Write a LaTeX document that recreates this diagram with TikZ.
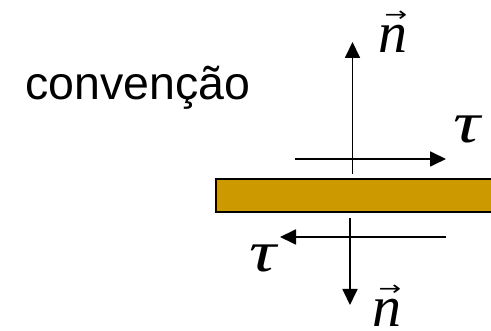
\documentclass[tikz,border=0pt]{standalone}
\usepackage{fontspec}
\setmainfont{Liberation Serif}
\newfontfamily\arialfont{Liberation Sans}
\newfontfamily\arrowfont{DejaVu Sans}
\usetikzlibrary{arrows.meta}
\definecolor{barfill}{HTML}{CC9900}
\newcommand{\vecn}{\makebox[0pt][l]{\hspace{6pt}\raisebox{31pt}{\scalebox{1.35}[1]{\arrowfont\fontsize{20}{20}\selectfont →}}}n}
\tikzset{
  vecarrow/.style={line width=1.8pt, -{Triangle[length=16pt,width=15pt]}},
  symlabel/.style={inner sep=0pt, font=\fontsize{58}{60}\selectfont\itshape},
  bar/.style={draw=black, line width=2pt, fill=barfill}
}
\begin{document}
\begin{tikzpicture}[x=1pt,y=-1pt]
\useasboundingbox (0,0) rectangle (491,331);
% text
\node[anchor=base west, inner sep=0pt, font=\arialfont\fontsize{46.5}{50}\selectfont] (conv) at (25,100) {convenção};
% bar
\draw[bar] (216,179) rectangle (495,212);
% arrow end coordinates
\coordinate (upS) at (352.5,174);
\coordinate (upE) at (352.5,42);
\coordinate (rS) at (295,159);
\coordinate (rE) at (446,159);
\coordinate (dnS) at (350,218);
\coordinate (dnE) at (350,305);
\coordinate (lS) at (446,237);
\coordinate (lE) at (280,237);
\draw[vecarrow] (upS) -- (upE);
\draw[vecarrow] (rS) -- (rE);
\draw[vecarrow] (dnS) -- (dnE);
\draw[vecarrow] (lS) -- (lE);
% labels
\node[symlabel, anchor=base] (ntop) at (393,53) {\vecn};
\node[symlabel, anchor=base] (tautop) at (467,143) {\scalebox{1.3}[1]{τ}};
\node[symlabel, anchor=base] (taubot) at (263,272) {\scalebox{1.3}[1]{τ}};
\node[symlabel, anchor=base] (nbot) at (387,327) {\vecn};
\end{tikzpicture}
\end{document}
